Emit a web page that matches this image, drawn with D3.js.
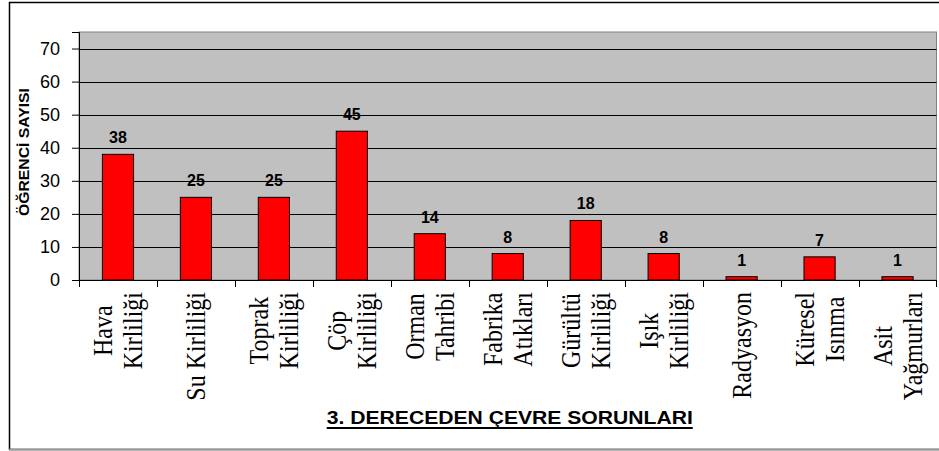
<!DOCTYPE html>
<html>
<head>
<meta charset="utf-8">
<script src="https://d3js.org/d3.v7.min.js"></script>
<style>
body { margin: 0; background: #fff; }
svg { display: block; }
</style>
</head>
<body>
<svg id="chart" width="939" height="451"></svg>
<script>
// categories (label lines) and values
var categories = [
  ["Hava", "Kirliliği"],
  ["Su Kirliliği"],
  ["Toprak", "Kirliliği"],
  ["Çöp", "Kirliliği"],
  ["Orman", "Tahribi"],
  ["Fabrika", "Atıkları"],
  ["Gürültü", "Kirliliği"],
  ["Işık", "Kirliliği"],
  ["Radyasyon"],
  ["Küresel", "Isınma"],
  ["Asit", "Yağmurları"]
];
var values = [38, 25, 25, 45, 14, 8, 18, 8, 1, 7, 1];
var yTicks = [0, 10, 20, 30, 40, 50, 60, 70];
var yTitle = "ÖĞRENCİ SAYISI";
var xTitle = "3. DERECEDEN ÇEVRE SORUNLARI";

var svg = d3.select("#chart");
var plotLeft = 79, plotRight = 936.5, plotTop = 32, plotBottom = 280;

// outer frame
svg.append("rect")
  .attr("x", 9.5).attr("y", 2.5)
  .attr("width", 960).attr("height", 447)
  .attr("fill", "none").attr("stroke", "#000").attr("stroke-width", 1.5);
svg.append("line")
  .attr("x1", 9).attr("x2", 939).attr("y1", 449.5).attr("y2", 449.5)
  .attr("stroke", "#999").attr("stroke-width", 1.5);

var x = d3.scaleBand()
  .domain(d3.range(categories.length))
  .range([plotLeft, plotRight])
  .paddingInner(0.6)
  .paddingOuter(0.3);

var y = d3.scaleLinear()
  .domain([0, 75])
  .range([plotBottom, plotTop]);

// plot area
svg.append("rect")
  .attr("x", plotLeft).attr("y", plotTop)
  .attr("width", plotRight - plotLeft).attr("height", plotBottom - plotTop)
  .attr("fill", "#c0c0c0").attr("stroke", "#808080");

// gridlines
svg.append("g").selectAll("line")
  .data(yTicks.filter(function(d) { return d > 0; }))
  .join("line")
  .attr("x1", plotLeft).attr("x2", plotRight)
  .attr("y1", function(d) { return Math.round(y(d)) + 0.5; })
  .attr("y2", function(d) { return Math.round(y(d)) + 0.5; })
  .attr("stroke", "#000");

// bars
svg.append("g").selectAll("rect")
  .data(values)
  .join("rect")
  .attr("x", function(d, i) { return x(i); })
  .attr("y", function(d) { return y(d); })
  .attr("width", x.bandwidth())
  .attr("height", function(d) { return y(0) - y(d); })
  .attr("fill", "#ff0000")
  .attr("stroke", "#000")
  .attr("stroke-width", 1);

// value labels
svg.append("g").selectAll("text")
  .data(values)
  .join("text")
  .attr("x", function(d, i) { return x(i) + x.bandwidth() / 2; })
  .attr("y", function(d) { return y(d) - 11; })
  .attr("text-anchor", "middle")
  .attr("font-family", "Arial, 'Liberation Sans', sans-serif")
  .attr("font-weight", "bold")
  .attr("font-size", "16px")
  .attr("fill", "#000")
  .text(function(d) { return d; });

// y axis
var yAxis = svg.append("g")
  .attr("transform", "translate(" + plotLeft + ",0)")
  .call(d3.axisLeft(y).tickValues(yTicks).tickSize(7).tickPadding(12));
yAxis.select(".domain").attr("stroke", "#000");
yAxis.selectAll("text")
  .attr("font-family", "Arial, 'Liberation Sans', sans-serif")
  .attr("font-size", "18px")
  .attr("fill", "#000");

// x axis line + ticks at band edges
var step = x.step();
var edges = d3.range(categories.length + 1).map(function(i) { return x(0) - x.paddingOuter() * step + i * step; });
svg.append("line")
  .attr("x1", plotLeft).attr("x2", plotRight)
  .attr("y1", plotBottom + 0.5).attr("y2", plotBottom + 0.5)
  .attr("stroke", "#000");
svg.append("g").selectAll("line")
  .data(edges)
  .join("line")
  .attr("x1", function(d) { return Math.min(Math.round(d) + 0.5, plotRight); })
  .attr("x2", function(d) { return Math.min(Math.round(d) + 0.5, plotRight); })
  .attr("y1", plotBottom).attr("y2", plotBottom + 7)
  .attr("stroke", "#000");

// x category labels, rotated, lines centered within block
var labelTop = 292, lineGap = 30;
categories.forEach(function(lines, i) {
  var cx = x(i) + x.bandwidth() / 2;
  var g = svg.append("g");
  var texts = lines.map(function(s) {
    return g.append("text")
      .attr("font-family", "'Times New Roman', 'Liberation Serif', serif")
      .attr("font-size", "24px")
      .attr("fill", "#000")
      .attr("text-anchor", "middle")
      .attr("dy", "0.35em")
      .text(s);
  });
  var maxLen = d3.max(texts, function(t) { return t.node().getComputedTextLength(); });
  var cy = labelTop + maxLen / 2;
  texts.forEach(function(t, j) {
    var lx = cx + (j - (lines.length - 1) / 2) * lineGap;
    t.attr("transform", "translate(" + lx + "," + cy + ") rotate(-90) scale(1,1.12)");
  });
});

// axis titles
svg.append("text")
  .attr("transform", "translate(24,152) rotate(-90)")
  .attr("text-anchor", "middle")
  .attr("dy", "0.35em")
  .attr("font-family", "Arial, 'Liberation Sans', sans-serif")
  .attr("font-weight", "bold")
  .attr("font-size", "15px")
  .attr("textLength", 128)
  .attr("lengthAdjust", "spacingAndGlyphs")
  .text(yTitle);

var titleX = (plotLeft + plotRight) / 2 + 2;
svg.append("text")
  .attr("x", titleX)
  .attr("y", 424)
  .attr("text-anchor", "middle")
  .attr("font-family", "Arial, 'Liberation Sans', sans-serif")
  .attr("font-weight", "bold")
  .attr("font-size", "18px")
  .attr("textLength", 366)
  .attr("lengthAdjust", "spacingAndGlyphs")
  .text(xTitle);
svg.append("line")
  .attr("x1", titleX - 183).attr("x2", titleX + 183)
  .attr("y1", 428).attr("y2", 428)
  .attr("stroke", "#000").attr("stroke-width", 2);
</script>
</body>
</html>
